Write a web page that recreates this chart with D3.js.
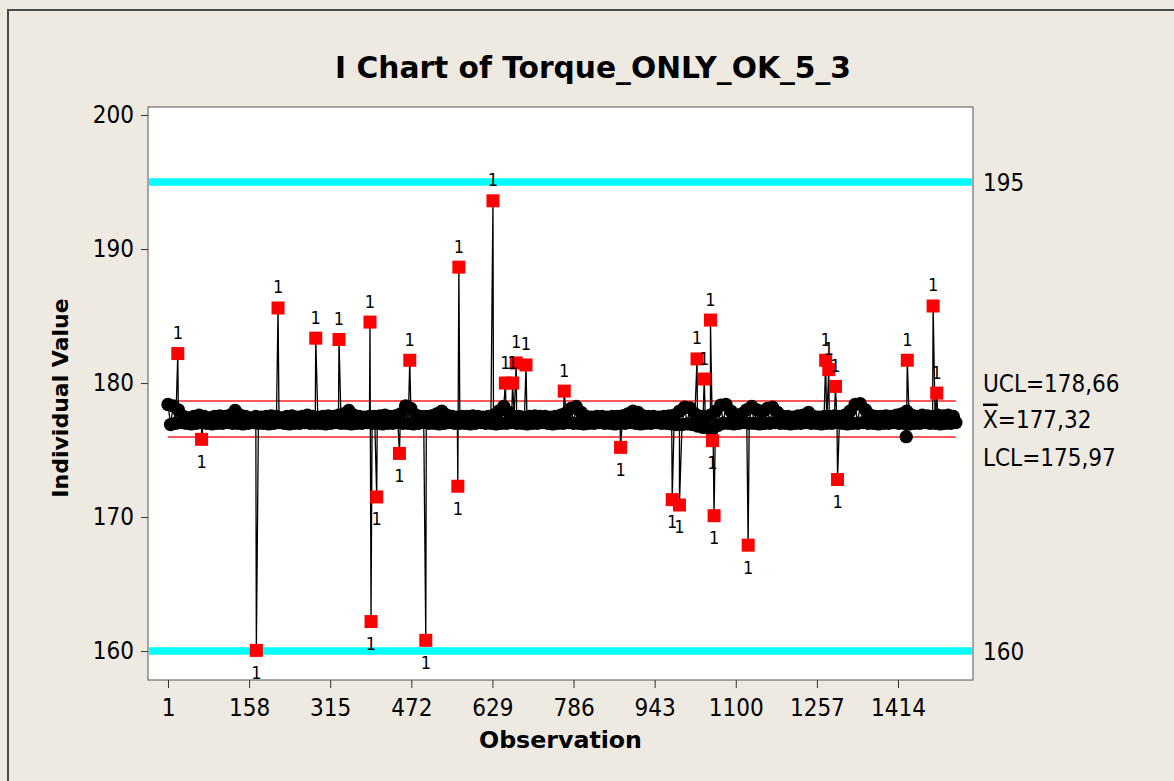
<!DOCTYPE html>
<html>
<head>
<meta charset="utf-8">
<script src="https://cdn.jsdelivr.net/npm/d3@7"></script>
<style>
  body { margin: 0; background: #eeeae1; }
  svg { display: block; }
</style>
</head>
<body>
<svg id="chart" width="1174" height="781"></svg>
<script>
// values
const obsTicks = [1, 158, 315, 472, 629, 786, 943, 1100, 1257, 1414];
const valueTicks = [160, 170, 180, 190, 200];
const specLimits = [195, 160];
const ucl = 178.66, mean = 177.32, lcl = 175.97;

// upper / lower envelope of the dense black band, one pair per 10 observations
const bandHigh = [
  178.4, 178.3, 178.0, 177.5, 177.4, 177.5, 177.6, 177.5, 177.4, 177.5,
  177.55, 177.5, 177.6, 177.95, 177.6, 177.5, 177.4, 177.5, 177.45, 177.5,
  177.55, 177.5, 177.4, 177.5, 177.55, 177.45, 177.5, 177.6, 177.5, 177.45,
  177.5, 177.55, 177.5, 177.6, 177.7, 177.95, 177.6, 177.5, 177.45, 177.5,
  177.5, 177.55, 177.6, 177.5, 177.55, 177.7, 178.3, 178.1, 177.6, 177.5,
  177.5, 177.55, 177.7, 177.9, 177.6, 177.5, 177.45, 177.5, 177.5, 177.55,
  177.5, 177.45, 177.5, 177.6, 177.9, 178.25, 177.8, 177.5, 177.5, 177.45,
  177.5, 177.55, 177.5, 177.5, 177.45, 177.5, 177.6, 177.75, 178.1, 178.25,
  177.8, 177.5, 177.45, 177.5, 177.5, 177.45, 177.5, 177.5, 177.55, 177.7,
  177.9, 177.8, 177.55, 177.5, 177.5, 177.45, 177.5, 177.55, 177.6, 177.9,
  178.2, 178.15, 177.7, 177.5, 177.5, 177.6, 177.9, 178.35, 178.4, 177.9,
  177.6, 177.7, 178.0, 178.25, 178.0, 177.8, 178.1, 178.2, 177.8, 177.5,
  177.5, 177.45, 177.55, 177.6, 177.8, 177.5, 177.45, 177.5, 177.5, 177.55,
  177.5, 177.6, 177.9, 178.4, 178.45, 178.0, 177.6, 177.5, 177.5, 177.55,
  177.5, 177.6, 177.7, 177.9, 177.6, 177.5, 177.6, 177.55, 177.5, 177.6,
  177.55, 177.6, 177.5
];
const bandLow = [
  176.9, 177.0, 177.05, 177.0, 176.95, 177.0, 177.05, 177.0, 176.95, 177.0,
  177.0, 177.05, 177.0, 177.0, 176.95, 177.0, 177.05, 177.0, 177.0, 176.95,
  177.0, 177.05, 177.0, 176.95, 177.0, 177.0, 177.05, 177.0, 177.0, 177.0,
  176.95, 177.0, 177.05, 177.0, 177.0, 176.95, 177.0, 177.0, 177.05, 177.0,
  177.0, 176.95, 177.0, 177.0, 177.05, 177.0, 177.0, 176.95, 177.0, 177.05,
  177.0, 177.0, 176.95, 177.0, 177.05, 177.0, 177.0, 177.0, 176.95, 177.0,
  177.05, 177.0, 177.0, 176.95, 177.0, 177.0, 177.05, 177.0, 177.0, 176.95,
  177.0, 177.0, 177.05, 177.0, 176.95, 177.0, 177.0, 177.05, 177.0, 177.0,
  176.95, 177.0, 177.0, 177.05, 177.0, 177.0, 176.95, 177.0, 177.0, 177.05,
  177.0, 176.95, 177.0, 177.0, 177.05, 177.0, 177.0, 176.95, 176.9, 176.9,
  176.95, 176.9, 176.8, 176.7, 176.65, 176.6, 176.85, 177.0, 177.0, 176.95,
  177.0, 177.05, 177.0, 177.0, 176.95, 177.0, 177.0, 177.05, 177.0, 177.0,
  176.95, 177.0, 177.0, 177.05, 177.0, 177.0, 176.95, 177.0, 177.0, 177.05,
  177.0, 176.95, 177.0, 177.0, 177.05, 177.0, 177.0, 176.95, 177.0, 177.0,
  177.05, 177.0, 177.0, 176.95, 177.0, 177.0, 177.05, 177.0, 177.0, 176.95,
  177.0, 177.0, 177.05
];

// points flagged by test 1 (red squares)
const flagObs = [20, 66, 172, 214, 287, 332, 392, 394, 405, 449, 469, 500, 562, 564, 630,
  654, 668, 675, 694, 768, 877, 977, 991, 1025, 1039, 1051, 1055, 1058, 1124,
  1274, 1280, 1293, 1297, 1432, 1482, 1489];
const flagVal = [182.2, 175.8, 160.05, 185.6, 183.35, 183.25, 184.55, 162.2, 171.5, 174.75, 181.7, 160.8, 172.3, 188.65, 193.6,
  180.0, 180.0, 181.5, 181.35, 179.4, 175.2, 171.3, 170.9, 181.8, 180.3, 184.7, 175.7, 170.1, 167.9,
  181.7, 181.0, 179.75, 172.8, 181.7, 185.75, 179.25];

// single black point just below the band
const plainObs = [1430];
const plainVal = [176.0];

const binSize = 10;
const fontReg = "'DejaVu Sans Condensed', 'DejaVu Sans', sans-serif";
const fontBold = "'DejaVu Sans', sans-serif";

const svg = d3.select("#chart");

// outer frame
svg.append("rect")
  .attr("x", 8).attr("y", 10)
  .attr("width", 1200).attr("height", 800)
  .attr("fill", "#eeeae1")
  .attr("stroke", "#4a4a4a")
  .attr("stroke-width", 2);

const plot = {left: 148, top: 107, right: 973, bottom: 680};

const x = d3.scaleLinear().domain([-37.7, 1559.2]).range([plot.left, plot.right]);
const y = d3.scaleLinear().domain([157.84, 200.6]).range([plot.bottom, plot.top]);

svg.append("rect")
  .attr("x", plot.left).attr("y", plot.top)
  .attr("width", plot.right - plot.left).attr("height", plot.bottom - plot.top)
  .attr("fill", "#fff")
  .attr("stroke", "#555")
  .attr("stroke-width", 1);

// build the series
let points = [];
bandHigh.forEach((v, i) => points.push({obs: 1 + i * binSize, v: v, flag: false}));
bandLow.forEach((v, i) => points.push({obs: 6 + i * binSize, v: v, flag: false}));
plainObs.forEach((o, i) => points.push({obs: o, v: plainVal[i], flag: false}));
flagObs.forEach((o, i) => points.push({obs: o, v: flagVal[i], flag: true}));
points.sort((a, b) => a.obs - b.obs);

const firstObs = points[0].obs, lastObs = points[points.length - 1].obs;

// spec lines (cyan)
specLimits.forEach(s => {
  svg.append("line")
    .attr("x1", plot.left + 1).attr("x2", plot.right - 1)
    .attr("y1", y(s)).attr("y2", y(s))
    .attr("stroke", "#00ffff")
    .attr("stroke-width", 7.5);
});

// control limits (red)
[ucl, lcl].forEach(c => {
  svg.append("line")
    .attr("x1", x(firstObs)).attr("x2", x(lastObs))
    .attr("y1", y(c)).attr("y2", y(c))
    .attr("stroke", "#ff2020")
    .attr("stroke-width", 1.5);
});

// data line
const line = d3.line().x(d => x(d.obs)).y(d => y(d.v));
svg.append("path")
  .datum(points)
  .attr("d", line)
  .attr("fill", "none")
  .attr("stroke", "#000")
  .attr("stroke-width", 1.3);

svg.append("g").selectAll("circle")
  .data(points.filter(d => !d.flag))
  .join("circle")
  .attr("cx", d => x(d.obs))
  .attr("cy", d => y(d.v))
  .attr("r", 6.7)
  .attr("fill", "#000");

const flagged = points.filter(d => d.flag);
svg.append("g").selectAll("rect")
  .data(flagged)
  .join("rect")
  .attr("x", d => x(d.obs) - 6.5)
  .attr("y", d => y(d.v) - 6.5)
  .attr("width", 13).attr("height", 13)
  .attr("fill", "#ff0000");

svg.append("g").selectAll("text")
  .data(flagged)
  .join("text")
  .attr("x", d => x(d.obs))
  .attr("y", d => d.v > mean ? y(d.v) - 21 : y(d.v) + 22)
  .attr("dy", "0.36em")
  .attr("text-anchor", "middle")
  .attr("font-family", fontReg)
  .attr("font-size", 18)
  .attr("fill", "#000")
  .text("1");

// axes
const xAxis = svg.append("g")
  .attr("transform", `translate(0,${plot.bottom})`)
  .call(d3.axisBottom(x).tickValues(obsTicks).tickSize(8).tickSizeOuter(0).tickFormat(d3.format("d")));
xAxis.select(".domain").remove();
xAxis.selectAll("line").attr("stroke", "#333");
xAxis.selectAll("text")
  .attr("y", 36).attr("dy", null)
  .attr("font-family", fontReg).attr("font-size", 24).attr("fill", "#000");

const yAxis = svg.append("g")
  .attr("transform", `translate(${plot.left},0)`)
  .call(d3.axisLeft(y).tickValues(valueTicks).tickSize(7).tickPadding(7).tickSizeOuter(0));
yAxis.select(".domain").remove();
yAxis.selectAll("line").attr("stroke", "#333");
yAxis.selectAll("text")
  .attr("font-family", fontReg).attr("font-size", 24).attr("fill", "#000");

// right side labels
specLimits.forEach(s => {
  svg.append("text")
    .attr("x", 983).attr("y", y(s)).attr("dy", "0.36em")
    .attr("font-family", fontReg).attr("font-size", 24)
    .text(d3.format("d")(s));
});

const fmt = v => d3.format(".2f")(v).replace(".", ",");
svg.append("text")
  .attr("x", 983).attr("y", y(ucl) - 18).attr("dy", "0.36em")
  .attr("font-family", fontReg).attr("font-size", 24)
  .text("UCL=" + fmt(ucl));
const meanLabel = svg.append("text")
  .attr("x", 983).attr("y", y(mean)).attr("dy", "0.36em")
  .attr("font-family", fontReg).attr("font-size", 24);
meanLabel.append("tspan").style("text-decoration", "overline").text("X");
meanLabel.append("tspan").text("=" + fmt(mean));
svg.append("text")
  .attr("x", 983).attr("y", y(lcl) + 20).attr("dy", "0.36em")
  .attr("font-family", fontReg).attr("font-size", 24)
  .text("LCL=" + fmt(lcl));

// titles
svg.append("text")
  .attr("x", 593).attr("y", 78)
  .attr("text-anchor", "middle")
  .attr("font-family", fontBold).attr("font-weight", "bold").attr("font-size", 29.7)
  .text("I Chart of Torque_ONLY_OK_5_3");

svg.append("text")
  .attr("x", (plot.left + plot.right) / 2).attr("y", 748)
  .attr("text-anchor", "middle")
  .attr("font-family", fontBold).attr("font-weight", "bold").attr("font-size", 23.7)
  .text("Observation");

svg.append("text")
  .attr("transform", `translate(68,398) rotate(-90)`)
  .attr("text-anchor", "middle")
  .attr("font-family", fontBold).attr("font-weight", "bold").attr("font-size", 22)
  .text("Individual Value");
</script>
</body>
</html>
